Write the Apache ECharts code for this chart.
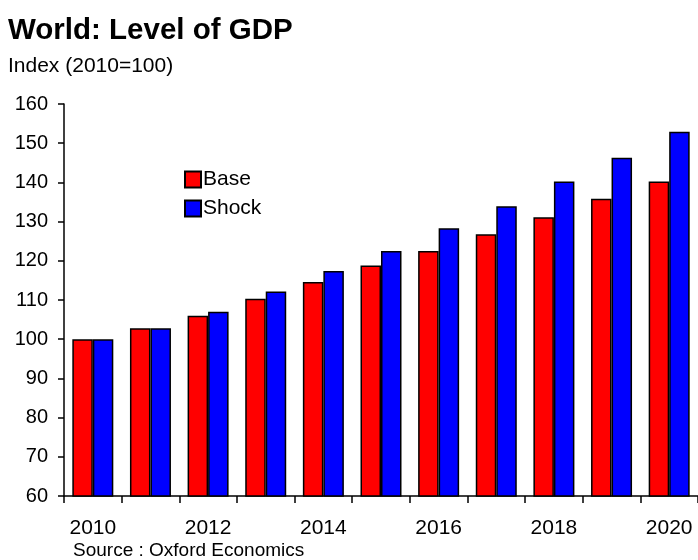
<!DOCTYPE html>
<html>
<head>
<meta charset="utf-8">
<script src="https://cdn.jsdelivr.net/npm/echarts@6/dist/echarts.min.js"></script>
<style>
  html, body { margin: 0; padding: 0; background: #fff; }
  #chart { width: 698px; height: 560px; }
</style>
</head>
<body>
<div id="chart"></div>
<script>
// World GDP level, index 2010 = 100
var years = ['2010', '2011', '2012', '2013', '2014', '2015', '2016', '2017', '2018', '2019', '2020'];
var baseValues  = [100, 102.8, 106.0, 110.3, 114.6, 118.8, 122.5, 126.8, 131.1, 135.8, 140.2];
var shockValues = [100, 102.8, 107.0, 112.2, 117.4, 122.5, 128.3, 133.9, 140.2, 146.3, 152.9];
var yTicks = [60, 70, 80, 90, 100, 110, 120, 130, 140, 150, 160];

var FONT = '"Liberation Sans", Arial, sans-serif';

var chart = echarts.init(document.getElementById('chart'), null, { renderer: 'canvas' });

chart.setOption({
  animation: false,
  backgroundColor: '#ffffff',
  title: [
    {
      text: 'World: Level of GDP',
      left: 3, top: 11,
      textStyle: { fontFamily: FONT, fontSize: 29.5, fontWeight: 'bold', color: '#000' }
    },
    {
      text: 'Index (2010=100)',
      left: 3, top: 51,
      textStyle: { fontFamily: FONT, fontSize: 21, fontWeight: 'normal', color: '#000' }
    },
    {
      text: 'Source : Oxford Economics',
      left: 68, top: 536,
      textStyle: { fontFamily: FONT, fontSize: 19, fontWeight: 'normal', color: '#000' }
    }
  ],
  legend: {
    orient: 'vertical',
    left: 184, top: 169,
    padding: 0,
    itemWidth: 16, itemHeight: 16,
    itemGap: 8,
    icon: 'rect',
    textStyle: { fontFamily: FONT, fontSize: 21, lineHeight: 16, color: '#000', padding: [0, 0, 0, -3] },
    data: ['Base', 'Shock']
  },
  grid: { left: 64, right: 0, top: 104, bottom: 64 },
  xAxis: {
    type: 'category',
    data: years,
    boundaryGap: true,
    axisLine: { lineStyle: { color: '#000', width: 1.5 } },
    axisTick: { show: true, interval: 0, length: 7, lineStyle: { color: '#000', width: 1.5 } },
    axisLabel: {
      interval: 1,
      margin: 22,
      fontFamily: FONT, fontSize: 21, color: '#000'
    },
    splitLine: { show: false }
  },
  yAxis: {
    type: 'value',
    min: yTicks[0],
    max: yTicks[yTicks.length - 1],
    interval: yTicks[1] - yTicks[0],
    axisLine: { show: true, lineStyle: { color: '#000', width: 1.5 } },
    axisTick: { show: true, length: 6, lineStyle: { color: '#000', width: 1.5 } },
    axisLabel: { margin: 16, fontFamily: FONT, fontSize: 20, color: '#000' },
    splitLine: { show: false }
  },
  series: [
    {
      name: 'Base',
      type: 'bar',
      data: baseValues,
      barWidth: 20.5,
      barGap: '0%',
      itemStyle: { color: '#ff0000', borderColor: '#000', borderWidth: 1.5 }
    },
    {
      name: 'Shock',
      type: 'bar',
      data: shockValues,
      barWidth: 20.5,
      barGap: '0%',
      itemStyle: { color: '#0000ff', borderColor: '#000', borderWidth: 1.5 }
    }
  ]
});
</script>
</body>
</html>
